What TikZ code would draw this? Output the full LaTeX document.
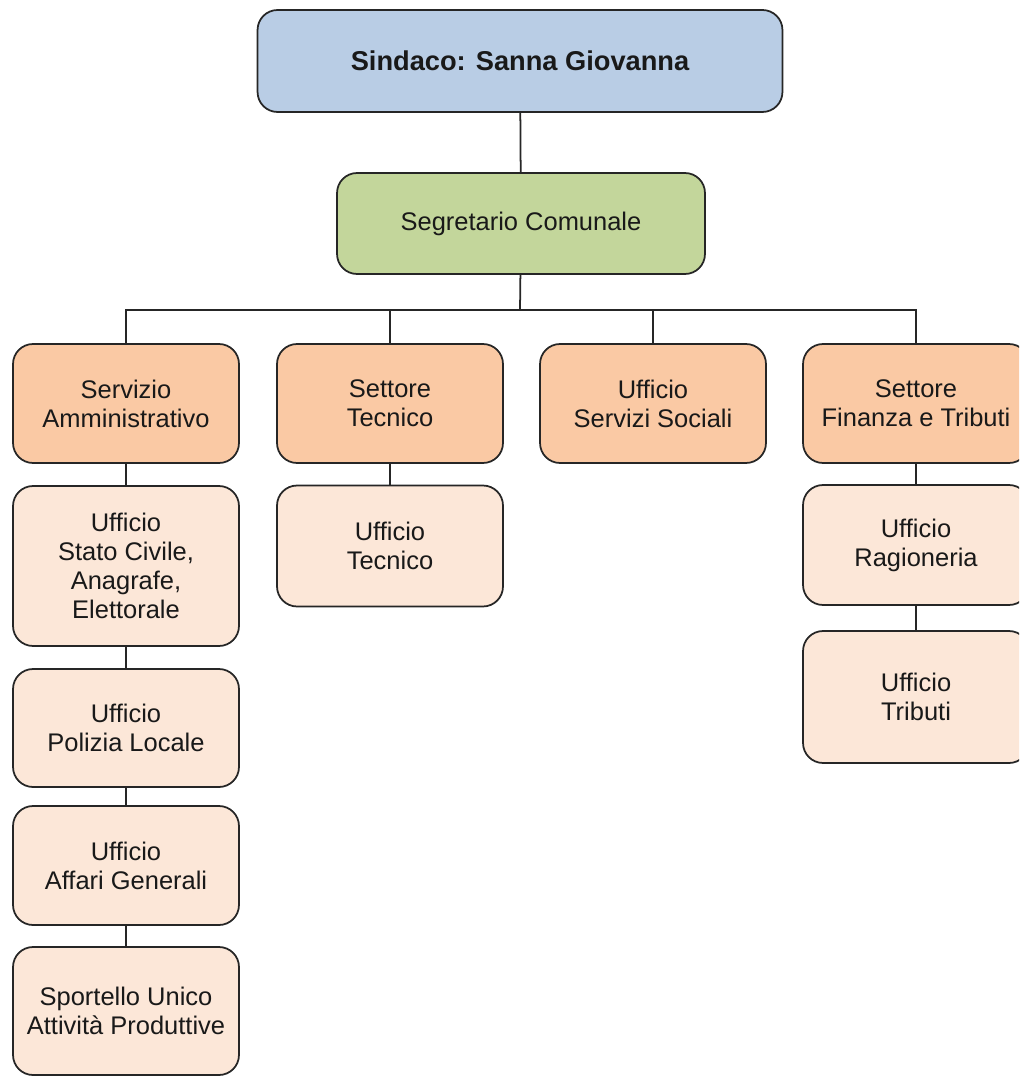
\documentclass[tikz,border=0pt]{standalone}
\usepackage{fontspec}
\setmainfont{Liberation Sans}
\usepackage{xcolor}
\definecolor{capoblu}{HTML}{B9CDE5}
\definecolor{segrverde}{HTML}{C3D69B}
\definecolor{settarancio}{HTML}{FAC9A4}
\definecolor{uffrosa}{HTML}{FCE7D8}
\definecolor{linea}{HTML}{262626}

\tikzset{
  box/.style={draw=linea,line width=1pt,rounded corners=0.4cm,align=center,
    text=black!90,font=\fontsize{14.5}{16.5}\selectfont,inner sep=0pt},
  settore/.style={box,fill=settarancio,minimum width=4.52cm,minimum height=2.38cm},
  ufficio/.style={box,fill=uffrosa,minimum width=4.52cm},
}

\begin{document}
\begin{tikzpicture}[x=0.02cm,y=-0.02cm]
\useasboundingbox (0,0) rectangle (1019,1077);
\clip (0,0) rectangle (1019,1077);

\node[box,fill=capoblu,minimum width=10.5cm,minimum height=2.04cm,
  font=\fontsize{15.5}{17}\selectfont\bfseries] (sindaco) at (520,61) {Sindaco: Sanna Giovanna};
\node[box,fill=segrverde,minimum width=7.36cm,minimum height=2.02cm] (segr) at (521,223.5) {Segretario Comunale};
\coordinate (bus) at (520,310);

\node[settore] (serv) at (126,403.5) {Servizio\\Amministrativo};
\node[settore] (tec) at (390,403.5) {Settore\\Tecnico};
\node[settore] (soc) at (653,403.5) {Ufficio\\Servizi Sociali};
\node[settore] (fin) at (916,403.5) {Settore\\Finanza e Tributi};

% colonna amministrativa
\node[ufficio,minimum height=3.2cm] (stato) at (126,566) {Ufficio\\Stato Civile,\\Anagrafe,\\Elettorale};
\node[ufficio,minimum height=2.36cm] (pol) at (126,728) {Ufficio\\Polizia Locale};
\node[ufficio,minimum height=2.38cm] (aff) at (126,865.5) {Ufficio\\Affari Generali};
\node[ufficio,minimum height=2.56cm] (suap) at (126,1011) {Sportello Unico\\Attivit\`a Produttive};

\node[ufficio,minimum height=2.42cm] (uftec) at (390,546) {Ufficio\\Tecnico};

\node[ufficio,minimum height=2.4cm] (rag) at (916,545) {Ufficio\\Ragioneria};
\node[ufficio,minimum height=2.64cm] (trib) at (916,697) {Ufficio\\Tributi};

\begin{scope}[draw=linea,line width=1pt]
\draw (sindaco) -- (segr);
\draw (segr) -- (bus);
\draw (serv.north) |- (bus) -| (fin.north);
\draw (tec.north) |- (bus);
\draw (soc.north) |- (bus);
\draw (serv) -- (stato);
\draw (stato) -- (pol);
\draw (pol) -- (aff);
\draw (aff) -- (suap);
\draw (tec) -- (uftec);
\draw (fin) -- (rag);
\draw (rag) -- (trib);
\end{scope}
\end{tikzpicture}
\end{document}
